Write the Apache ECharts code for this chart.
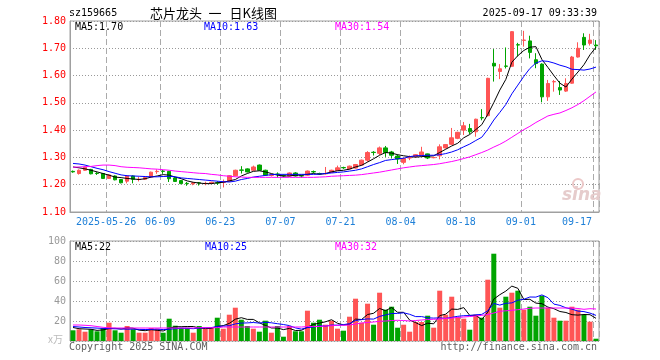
<!DOCTYPE html>
<html><head><meta charset="utf-8">
<script src="https://cdn.jsdelivr.net/npm/echarts@6/dist/echarts.min.js"></script>
<style>html,body{margin:0;padding:0;background:#fff}#c{width:660px;height:360px}</style>
</head><body><div id="c"></div>
<script>
const dates = [
'2025-05-16','2025-05-19','2025-05-20','2025-05-21','2025-05-22','2025-05-23','2025-05-26','2025-05-27','2025-05-28','2025-05-29',
'2025-05-30','2025-06-03','2025-06-04','2025-06-05','2025-06-06','2025-06-09','2025-06-10','2025-06-11','2025-06-12','2025-06-13',
'2025-06-16','2025-06-17','2025-06-18','2025-06-19','2025-06-20','2025-06-23','2025-06-24','2025-06-25','2025-06-26','2025-06-27',
'2025-06-30','2025-07-01','2025-07-02','2025-07-03','2025-07-04','2025-07-07','2025-07-08','2025-07-09','2025-07-10','2025-07-11',
'2025-07-14','2025-07-15','2025-07-16','2025-07-17','2025-07-18','2025-07-21','2025-07-22','2025-07-23','2025-07-24','2025-07-25',
'2025-07-28','2025-07-29','2025-07-30','2025-07-31','2025-08-01','2025-08-04','2025-08-05','2025-08-06','2025-08-07','2025-08-08',
'2025-08-11','2025-08-12','2025-08-13','2025-08-14','2025-08-15','2025-08-18','2025-08-19','2025-08-20','2025-08-21','2025-08-22',
'2025-08-25','2025-08-26','2025-08-27','2025-08-28','2025-08-29','2025-09-01','2025-09-02','2025-09-03','2025-09-04','2025-09-05',
'2025-09-08','2025-09-09','2025-09-10','2025-09-11','2025-09-12','2025-09-15','2025-09-16','2025-09-17'];

const open = [1.249,1.241,1.253,1.256,1.242,1.241,1.223,1.232,1.219,1.213,
1.232,1.219,1.220,1.228,1.248,1.250,1.249,1.225,1.215,1.205,
1.203,1.207,1.204,1.205,1.207,1.209,1.213,1.233,1.254,1.258,
1.253,1.272,1.253,1.234,1.239,1.233,1.232,1.243,1.233,1.235,
1.248,1.241,1.240,1.245,1.252,1.263,1.258,1.261,1.272,1.290,
1.319,1.315,1.335,1.320,1.305,1.282,1.298,1.303,1.308,1.313,
1.299,1.306,1.335,1.348,1.370,1.400,1.406,1.394,1.446,1.453,
1.645,1.615,1.635,1.634,1.713,1.729,1.727,1.658,1.642,1.522,
1.577,1.556,1.543,1.572,1.668,1.740,1.718,1.712];

const close = [1.247,1.253,1.264,1.240,1.241,1.223,1.236,1.218,1.207,1.232,
1.220,1.220,1.226,1.246,1.249,1.249,1.222,1.212,1.204,1.204,
1.207,1.206,1.205,1.209,1.206,1.210,1.233,1.253,1.253,1.247,
1.265,1.253,1.235,1.235,1.238,1.232,1.243,1.232,1.232,1.250,
1.247,1.240,1.241,1.253,1.262,1.262,1.268,1.274,1.290,1.318,
1.318,1.335,1.318,1.308,1.294,1.296,1.299,1.310,1.320,1.298,
1.300,1.339,1.347,1.372,1.392,1.416,1.394,1.440,1.445,1.590,
1.635,1.625,1.634,1.761,1.712,1.730,1.685,1.644,1.522,1.571,
1.578,1.547,1.571,1.668,1.700,1.712,1.730,1.709];

const low = [1.244,1.237,1.251,1.238,1.236,1.221,1.221,1.216,1.205,1.205,
1.205,1.212,1.218,1.226,1.240,1.240,1.210,1.210,1.202,1.196,
1.198,1.197,1.198,1.203,1.199,1.190,1.211,1.231,1.241,1.245,
1.251,1.251,1.232,1.230,1.226,1.227,1.230,1.230,1.226,1.233,
1.243,1.237,1.237,1.243,1.250,1.258,1.256,1.259,1.270,1.284,
1.307,1.309,1.302,1.296,1.276,1.275,1.290,1.300,1.302,1.294,
1.297,1.293,1.333,1.346,1.367,1.382,1.386,1.376,1.436,1.450,
1.578,1.587,1.626,1.632,1.670,1.706,1.663,1.627,1.502,1.507,
1.541,1.529,1.540,1.570,1.666,1.694,1.710,1.694];

const high = [1.252,1.256,1.266,1.258,1.246,1.243,1.238,1.234,1.221,1.234,
1.234,1.228,1.228,1.248,1.256,1.254,1.250,1.227,1.216,1.210,
1.210,1.210,1.211,1.211,1.213,1.219,1.235,1.255,1.268,1.260,
1.270,1.274,1.255,1.240,1.245,1.238,1.245,1.246,1.236,1.252,
1.252,1.244,1.265,1.255,1.270,1.266,1.270,1.276,1.292,1.323,
1.323,1.340,1.342,1.324,1.311,1.298,1.307,1.312,1.339,1.314,
1.302,1.348,1.349,1.408,1.394,1.430,1.423,1.442,1.477,1.592,
1.697,1.642,1.703,1.763,1.720,1.764,1.746,1.682,1.645,1.584,
1.584,1.580,1.590,1.672,1.722,1.755,1.753,1.730];

const volume = [10.7,11.7,9.3,11.7,9.7,13,18.3,10.7,8.3,15,
11.7,8.3,8.3,13,12.3,8.3,22.3,15.3,13.3,13.3,
8.3,15,12.3,14,23.3,12.3,26.3,33.3,21.3,15,
12.3,9.3,20.3,8.3,15,4.3,15,9.7,9.7,30.3,
18.3,21.3,16.3,20.3,12.3,10.3,24.3,42.3,18.3,37.3,
16.3,48.3,31.3,34.3,13.3,16.3,9.3,19,19,25.3,
13.3,50.3,26.3,44.3,23.7,22.3,11.3,26.3,23.3,61.3,
87.3,33.3,44.3,48.3,50.3,31.3,34.3,25.3,45.3,33.3,
23.3,20.3,20.3,34.3,31.3,26.3,19.3,2.3];

const ma5 = [1.265,1.262,1.258,1.253,1.247,1.241,1.235,1.228,1.226,1.223,
1.221,1.219,1.222,1.228,1.232,1.237,1.235,1.228,1.222,1.214,
1.209,1.206,1.204,1.204,1.207,1.209,1.214,1.219,1.232,1.241,
1.249,1.251,1.247,1.241,1.235,1.232,1.232,1.235,1.235,1.238,
1.241,1.238,1.241,1.247,1.251,1.253,1.257,1.265,1.271,1.283,
1.295,1.308,1.318,1.316,1.310,1.306,1.303,1.301,1.303,1.304,
1.306,1.318,1.330,1.342,1.352,1.372,1.384,1.402,1.420,1.458,
1.501,1.547,1.586,1.649,1.673,1.692,1.704,1.706,1.659,1.630,
1.600,1.572,1.558,1.587,1.613,1.640,1.676,1.704];

const ma10 = [1.278,1.276,1.272,1.266,1.260,1.255,1.248,1.242,1.236,1.233,
1.232,1.231,1.230,1.229,1.229,1.230,1.231,1.229,1.225,1.223,
1.221,1.219,1.217,1.215,1.213,1.211,1.210,1.213,1.219,1.223,
1.228,1.231,1.234,1.237,1.238,1.238,1.238,1.238,1.238,1.238,
1.238,1.239,1.241,1.243,1.245,1.247,1.250,1.253,1.258,1.266,
1.274,1.281,1.289,1.292,1.295,1.297,1.303,1.306,1.307,1.308,
1.308,1.310,1.314,1.320,1.328,1.339,1.349,1.362,1.374,1.403,
1.437,1.465,1.494,1.533,1.565,1.597,1.626,1.646,1.654,1.652,
1.646,1.638,1.632,1.623,1.622,1.620,1.624,1.631];

const ma30 = [1.264,1.265,1.266,1.267,1.270,1.272,1.272,1.270,1.266,1.264,
1.263,1.262,1.260,1.258,1.257,1.255,1.253,1.250,1.248,1.246,
1.244,1.242,1.241,1.238,1.236,1.233,1.231,1.229,1.228,1.227,
1.227,1.227,1.227,1.227,1.227,1.227,1.227,1.227,1.227,1.227,
1.227,1.228,1.229,1.231,1.232,1.233,1.234,1.235,1.237,1.240,
1.243,1.246,1.250,1.254,1.258,1.262,1.265,1.268,1.270,1.272,
1.274,1.277,1.281,1.285,1.290,1.296,1.302,1.310,1.318,1.327,
1.338,1.348,1.360,1.374,1.388,1.402,1.414,1.428,1.440,1.452,
1.458,1.463,1.472,1.482,1.494,1.508,1.524,1.540];

const vma5 = [13.5,12.3,12.0,11.7,10.6,11.1,12.4,12.7,12.0,13.1,
12.8,10.8,10.3,11.3,10.7,10.0,12.8,14.2,14.3,14.5,
14.5,13.0,12.4,12.6,14.6,15.4,17.6,21.8,23.3,21.6,
21.6,18.2,15.6,13.0,13.0,11.4,12.6,10.5,10.7,13.8,
16.6,17.9,19.2,21.3,17.7,16.1,16.7,21.9,21.5,26.5,
27.7,32.5,30.3,33.5,28.7,28.7,20.9,18.4,15.4,17.8,
17.2,25.4,26.8,31.9,31.6,33.4,25.6,25.6,21.4,28.9,
41.9,46.3,49.9,54.9,52.7,41.5,41.7,37.9,37.3,33.9,
32.3,29.5,28.5,26.3,25.9,26.5,26.3,22.7];

const vma10 = [14.5,14.0,13.5,13.2,12.9,12.6,12.4,12.2,12.0,11.8,
11.9,11.6,11.5,11.6,11.9,11.4,11.8,12.3,12.8,12.6,
12.3,12.9,13.3,13.4,14.5,14.9,15.3,17.1,17.9,18.1,
18.5,17.9,18.7,18.2,17.3,16.5,15.4,13.1,11.9,13.4,
14.0,15.2,14.8,16.0,15.8,16.4,17.3,20.5,21.4,22.1,
21.9,24.6,26.1,27.5,27.6,28.2,26.7,24.4,24.4,23.2,
22.9,23.1,22.6,23.6,24.7,25.3,25.5,26.2,26.6,30.2,
37.6,35.9,37.7,38.1,40.8,41.7,44.0,43.9,46.1,43.3,
36.9,35.6,33.2,31.8,29.9,29.4,27.9,25.6];

const vma30 = [16,16,15.7,15.3,14.5,13.7,13.2,13,13,13,
13,13,13,13,13,13,13,13,13,13,
13,13.3,13.3,13.3,13.3,14,14,14,14,14,
14,14,14,14,14,14,14,14,14,14.5,
14.5,14.5,15,15.3,15.7,15.7,16,17,18,18.5,
19,19.7,20,20.5,20.7,20.5,20,20.5,21,21.5,
21.7,22,22.5,23,23.5,24,24.5,25,25.7,26.5,
28,29.7,30.2,30.7,31.3,32,32.7,33,33,33,
33,33,33,33,32.5,31.7,32.3,32];

const tickDates = ['2025-05-26','2025-06-09','2025-06-23','2025-07-07','2025-07-21','2025-08-04','2025-08-18','2025-09-01','2025-09-17'];
const tickLabels = ['2025-05-26','06-09','06-23','07-07','07-21','08-04','08-18','09-01','09-17'];

const UP = '#ff5555', DOWN = '#00a400';
const MONO = 'DejaVu Sans Mono';
const last = a => a[a.length - 1];

const kData = dates.map((d, i) => [open[i], close[i], low[i], high[i]]);
const vData = volume.map((v, i) => ({ value: v, itemStyle: { color: close[i] >= open[i] ? UP : DOWN } }));

const showTick = (i, v) => tickDates.indexOf(v) >= 0;
const lineS = (name, data, color, xi, yi) => ({
  name, type: 'line', data, xAxisIndex: xi, yAxisIndex: yi, symbol: 'none', silent: true,
  lineStyle: { color, width: 1 }, z: 5
});

const chart = echarts.init(document.getElementById('c'), null, { renderer: 'canvas' });
chart.setOption({
  animation: false,
  backgroundColor: '#fff',
  grid: [
    { left: 70, top: 21, width: 529, height: 191, show: true, borderColor: '#a0a0a0', borderWidth: 1, backgroundColor: 'transparent' },
    { left: 70, top: 241, width: 529, height: 100, show: true, borderColor: '#a0a0a0', borderWidth: 1, backgroundColor: 'transparent' }
  ],
  xAxis: [
    {
      type: 'category', data: dates, gridIndex: 0, boundaryGap: true,
      axisLine: { show: true, lineStyle: { color: '#a0a0a0' } },
      axisTick: { show: false },
      axisLabel: {
        interval: showTick, margin: 5, color: '#1f80d8', fontFamily: MONO, fontSize: 10,
        formatter: v => {
          const t = tickLabels[tickDates.indexOf(v)];
          return v === last(dates) ? '{r|' + t + '}' : '{n|' + t + '}';
        },
        rich: {
          n: { color: '#1f80d8', fontFamily: MONO, fontSize: 10, padding: [0, 6, 0, 0] },
          r: { color: '#1f80d8', fontFamily: MONO, fontSize: 10, padding: [0, 38, 0, 0] }
        }
      },
      splitLine: { show: true, interval: showTick, lineStyle: { color: '#aaaaaa', type: [6, 3], width: 1 } }
    },
    {
      type: 'category', data: dates, gridIndex: 1, boundaryGap: true,
      axisLine: { show: false }, axisTick: { show: false }, axisLabel: { show: false },
      splitLine: { show: true, interval: showTick, lineStyle: { color: '#aaaaaa', type: [6, 3], width: 1 } }
    }
  ],
  yAxis: [
    {
      type: 'value', gridIndex: 0, min: 1.1, max: 1.8, interval: 0.1, scale: true,
      axisLine: { show: true, lineStyle: { color: '#a0a0a0' } }, axisTick: { show: false },
      axisLabel: { color: '#ff0000', fontFamily: MONO, fontSize: 10, margin: 4, formatter: v => v.toFixed(2) },
      splitLine: { show: true, lineStyle: { color: '#999999', type: [1, 2], width: 1 } }
    },
    {
      type: 'value', gridIndex: 1, min: 0, max: 100, interval: 20,
      axisLine: { show: true, lineStyle: { color: '#a0a0a0' } }, axisTick: { show: false },
      axisLabel: { color: '#999999', fontFamily: MONO, fontSize: 10, margin: 4, formatter: v => v === 0 ? '' : String(v) },
      splitLine: { show: true, lineStyle: { color: '#999999', type: [1, 2], width: 1 } }
    }
  ],
  series: [
    {
      name: 'K', type: 'candlestick', data: kData, xAxisIndex: 0, yAxisIndex: 0, barWidth: 4, silent: true,
      itemStyle: { color: UP, color0: DOWN, borderColor: UP, borderColor0: DOWN, borderWidth: 1 }
    },
    lineS('MA5', ma5, '#000000', 0, 0),
    lineS('MA10', ma10, '#0000ff', 0, 0),
    lineS('MA30', ma30, '#ff00ff', 0, 0),
    { name: 'VOL', type: 'bar', data: vData, xAxisIndex: 1, yAxisIndex: 1, barWidth: 5, silent: true },
    lineS('VMA5', vma5, '#000000', 1, 1),
    lineS('VMA10', vma10, '#0000ff', 1, 1),
    lineS('VMA30', vma30, '#ff00ff', 1, 1)
  ],
  graphic: { elements: [
    { type: 'text', x: 69, y: 13, style: { text: 'sz159665', fill: '#000', font: '10px "DejaVu Sans Mono"', verticalAlign: 'middle' } },
    { type: 'text', x: 150, y: 13, style: {
        text: '{a|芯片龙头}{s| }{a|一}{t| }{a|日K线图}', fill: '#000', font: '13px "Noto Sans CJK SC"', verticalAlign: 'middle',
        rich: {
          a: { fill: '#000', font: '13px "Noto Sans CJK SC"' },
          s: { font: '13px "Noto Sans CJK SC"', width: 6.5 },
          t: { font: '13px "Noto Sans CJK SC"', width: 8 }
        } } },
    { type: 'text', x: 597, y: 13, style: { text: '2025-09-17 09:33:39', fill: '#000', font: '10px "DejaVu Sans Mono"', align: 'right', verticalAlign: 'middle' } },
    { type: 'text', x: 75, y: 27, z: 10, style: { text: 'MA5:' + last(ma5).toFixed(2), fill: '#000', font: '10px "DejaVu Sans Mono"', verticalAlign: 'middle' } },
    { type: 'text', x: 204, y: 27, z: 10, style: { text: 'MA10:' + last(ma10).toFixed(2), fill: '#0000ff', font: '10px "DejaVu Sans Mono"', verticalAlign: 'middle' } },
    { type: 'text', x: 335, y: 27, z: 10, style: { text: 'MA30:' + last(ma30).toFixed(2), fill: '#ff00ff', font: '10px "DejaVu Sans Mono"', verticalAlign: 'middle' } },
    { type: 'text', x: 75, y: 247, z: 10, style: { text: 'MA5:' + Math.floor(last(vma5)), fill: '#000', font: '10px "DejaVu Sans Mono"', verticalAlign: 'middle' } },
    { type: 'text', x: 205, y: 247, z: 10, style: { text: 'MA10:' + Math.floor(last(vma10)), fill: '#0000ff', font: '10px "DejaVu Sans Mono"', verticalAlign: 'middle' } },
    { type: 'text', x: 335, y: 247, z: 10, style: { text: 'MA30:' + Math.floor(last(vma30)), fill: '#ff00ff', font: '10px "DejaVu Sans Mono"', verticalAlign: 'middle' } },
    { type: 'text', x: 48, y: 339, style: { text: 'x万', fill: '#bbbbbb', font: '10px "Noto Sans CJK SC"', verticalAlign: 'middle' } },
    { type: 'text', x: 69, y: 347, style: { text: 'Copyright 2025 SINA.COM', fill: '#606060', font: '10px "DejaVu Sans Mono"', verticalAlign: 'middle' } },
    { type: 'text', x: 597, y: 347, style: { text: 'http://finance.sina.com.cn', fill: '#606060', font: '10px "DejaVu Sans Mono"', align: 'right', verticalAlign: 'middle' } },
    { type: 'circle', shape: { cx: 578, cy: 184, r: 5 }, z: 1, style: { fill: 'none', stroke: '#ecc8c8', lineWidth: 2 } },
    { type: 'text', x: 562, y: 196, z: 1, style: { text: 'sina', fill: '#e6cccc', font: 'italic bold 17px "DejaVu Sans"', verticalAlign: 'middle' } }
  ] }
});
</script></body></html>
